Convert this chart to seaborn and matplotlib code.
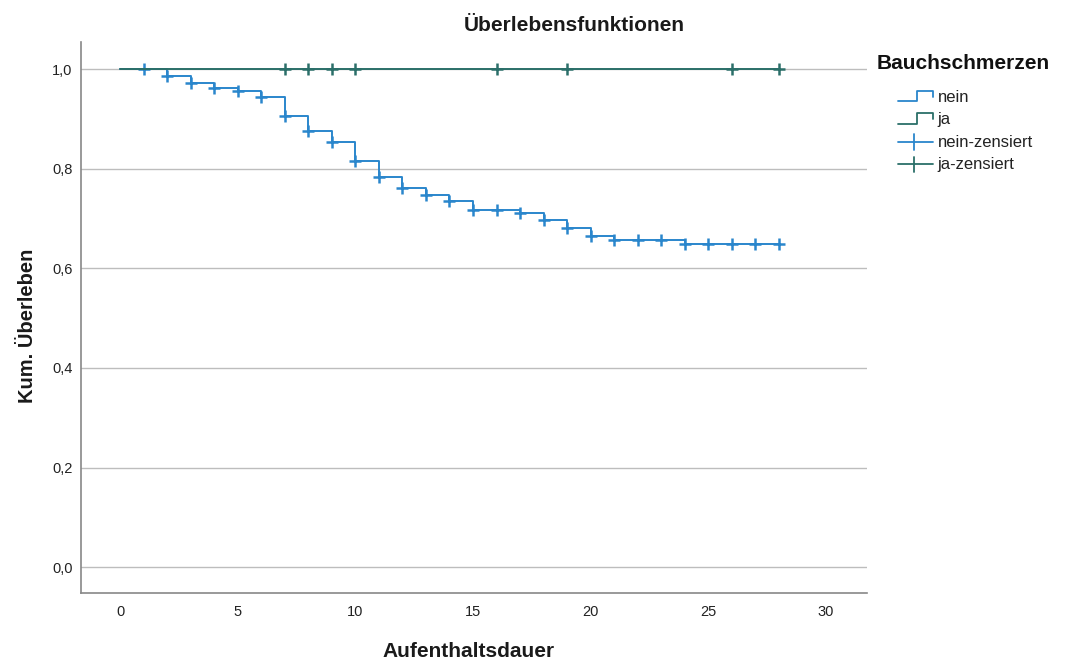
import numpy as np
import pandas as pd
import matplotlib
matplotlib.use("Agg")
import matplotlib.pyplot as plt
import seaborn as sns
from matplotlib.lines import Line2D
from matplotlib.legend_handler import HandlerBase

# ---- data ----
nein_times = [0, 2, 3, 4, 5, 6, 7, 8, 9, 10, 11, 12, 13, 14, 15, 17, 18, 19, 20, 21, 24, 28]
nein_surv = [1.0, 0.986, 0.972, 0.962, 0.956, 0.944, 0.906, 0.875, 0.853, 0.815, 0.784,
             0.762, 0.748, 0.735, 0.717, 0.712, 0.698, 0.680, 0.665, 0.657, 0.649, 0.649]
nein_censored = [1, 2, 3, 4, 5, 6, 7, 8, 9, 10, 11, 12, 13, 14, 15, 16, 17, 18, 19, 20,
                 21, 22, 23, 24, 25, 26, 27, 28]
ja_times = [0, 28]
ja_surv = [1.0, 1.0]
ja_censored = [7, 8, 9, 10, 16, 19, 26, 28]

groups = ["nein", "ja"]
legend_labels = ["nein", "ja", "nein-zensiert", "ja-zensiert"]
x_ticks = [0, 5, 10, 15, 20, 25, 30]
y_ticks = [0.0, 0.2, 0.4, 0.6, 0.8, 1.0]

title = "Überlebensfunktionen"
xlabel = "Aufenthaltsdauer"
ylabel = "Kum. Überleben"
legend_title = "Bauchschmerzen"

colors = {"nein": "#2a86cc", "ja": "#2b6f69"}

# ---- build tables ----
steps = pd.concat([
    pd.DataFrame({"time": nein_times, "surv": nein_surv, "group": "nein"}),
    pd.DataFrame({"time": ja_times, "surv": ja_surv, "group": "ja"}),
], ignore_index=True)


def surv_at(times, surv, t):
    idx = np.searchsorted(times, t, side="right") - 1
    return np.asarray(surv)[idx]


cens = pd.concat([
    pd.DataFrame({"time": nein_censored,
                  "surv": surv_at(nein_times, nein_surv, nein_censored), "group": "nein"}),
    pd.DataFrame({"time": ja_censored,
                  "surv": surv_at(ja_times, ja_surv, ja_censored), "group": "ja"}),
], ignore_index=True)

# ---- plot ----
sns.set_theme(style="white")
plt.rcParams["font.family"] = ["Liberation Sans", "DejaVu Sans"]

W, H = 1065, 660
fig = plt.figure(figsize=(W / 100, H / 100), dpi=100)
ax = fig.add_axes([0.076, 0.1015, 0.738, 0.8345])

for g in groups:
    d = steps[steps.group == g]
    sns.lineplot(data=d, x="time", y="surv", ax=ax, color=colors[g],
                 drawstyle="steps-post", lw=1.4, estimator=None, sort=False,
                 legend=False, zorder=3 if g == "ja" else 2)
    c = cens[cens.group == g]
    ax.scatter(c["time"], c["surv"], marker="+", s=65, linewidths=1.8,
               color=colors[g], zorder=4 if g == "ja" else 3)

ax.set_xlim(-1.66, 31.74)
ax.set_ylim(-0.052, 1.054)
ax.set_xticks(x_ticks)
ax.set_yticks(y_ticks)
ax.set_xticklabels([str(t) for t in x_ticks], fontsize=10.5, color="#222222")
ax.set_yticklabels([f"{v:.1f}".replace(".", ",") for v in y_ticks], fontsize=10.5,
                   color="#222222")
ax.tick_params(axis="x", length=0, pad=8.5)
ax.tick_params(axis="y", length=0, pad=6)
ax.yaxis.grid(True, color="#bdbdbd", lw=1)
ax.xaxis.grid(False)
ax.set_axisbelow(True)
for s in ["top", "right"]:
    ax.spines[s].set_visible(False)
for s in ["left", "bottom"]:
    ax.spines[s].set_color("#888888")
    ax.spines[s].set_linewidth(1.2)

ax.set_xlabel("")
ax.set_ylabel("")
fig.text(574 / W, 1 - 31 / H, title, fontsize=15, fontweight="bold",
         ha="center", va="baseline", color="#1a1a1a")
fig.text(469 / W, 1 - 657 / H, xlabel, fontsize=15, fontweight="bold",
         ha="center", va="baseline", color="#1a1a1a")
fig.text(33 / W, 1 - 326 / H, ylabel, fontsize=14.5, fontweight="bold",
         rotation=90, rotation_mode="anchor", ha="center", va="baseline",
         color="#1a1a1a")
fig.text(877 / W, 1 - 69 / H, legend_title, fontsize=15, fontweight="bold",
         ha="left", va="baseline", color="#111111")


class StepHandler(HandlerBase):
    def create_artists(self, legend, orig_handle, xdescent, ydescent, width,
                       height, fontsize, trans):
        xs = np.array([0, 0.55, 0.55, 1.0, 1.0]) * width - xdescent
        ys = np.array([0.1, 0.1, 0.95, 0.95, 0.45]) * height - ydescent
        line = Line2D(xs, ys, color=orig_handle.get_color(), lw=1.3, transform=trans)
        return [line]


class PlusHandler(HandlerBase):
    def create_artists(self, legend, orig_handle, xdescent, ydescent, width,
                       height, fontsize, trans):
        y = 0.4 * height - ydescent
        h = Line2D([-xdescent, width - xdescent], [y, y],
                   color=orig_handle.get_color(), lw=1.3, transform=trans)
        v = Line2D([0.45 * width - xdescent] * 2, [y - 0.6 * height, y + 0.6 * height],
                   color=orig_handle.get_color(), lw=1.3, transform=trans)
        return [h, v]


h_nein = Line2D([], [], color=colors["nein"])
h_ja = Line2D([], [], color=colors["ja"])
h_nc = Line2D([], [], color=colors["nein"], marker="+")
h_jc = Line2D([], [], color=colors["ja"], marker="+")

leg = fig.legend([h_nein, h_ja, h_nc, h_jc], legend_labels,
                 handler_map={h_nein: StepHandler(), h_ja: StepHandler(),
                              h_nc: PlusHandler(), h_jc: PlusHandler()},
                 loc="upper left", bbox_to_anchor=(898 / W, 1 - 90 / H), frameon=False,
                 fontsize=12, handlelength=2.1, handleheight=0.8,
                 handletextpad=0.28, labelspacing=0.42, borderaxespad=0,
                 borderpad=0)
for t in leg.get_texts():
    t.set_color("#222222")

fig.savefig("out.png", dpi=100)
